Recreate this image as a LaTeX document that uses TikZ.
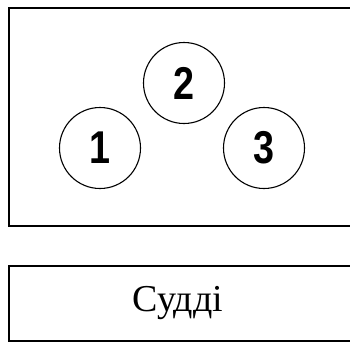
\documentclass[tikz,border=0pt]{standalone}
\usepackage{fontspec}
\setmainfont{Liberation Serif}
\newfontfamily\digitfont{Liberation Sans}
\begin{document}
\begin{tikzpicture}[x=1pt,y=-1pt,
  frame/.style={draw=black,line width=1.5pt},
  seat/.style={circle,draw=black,line width=1.1pt,minimum size=81pt,inner sep=0pt,
    font=\digitfont\bfseries\fontsize{46}{46}\selectfont},
  label/.style={font=\fontsize{38}{38}\selectfont}]
\useasboundingbox (0,0) rectangle (350,343);
\clip (0,0) rectangle (350,343);
\draw[frame] (9,8) rectangle (360,226);
\draw[frame] (9,266) rectangle (360,341);
\node[seat] (s1) at (100,148) {\scalebox{0.82}[1]{1}};
\node[seat] (s2) at (184,83) {\scalebox{0.82}[1]{2}};
\node[seat] (s3) at (264,148) {\scalebox{0.82}[1]{3}};
\node[label] (judges) at (178,303) {Судді};
\end{tikzpicture}
\end{document}
